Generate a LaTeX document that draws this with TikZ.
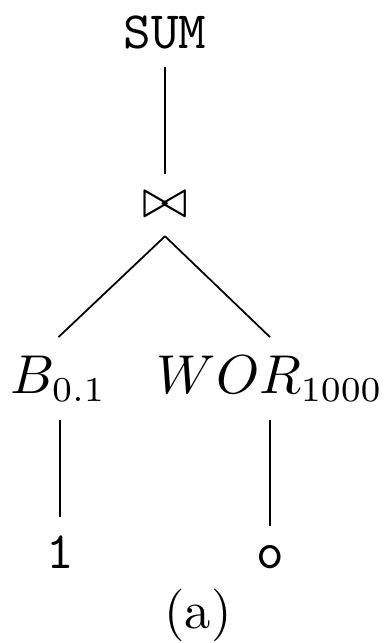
\documentclass[tikz,border=0pt]{standalone}
\usepackage{amsmath}
\begin{document}
\begin{tikzpicture}[x=0.2pt,y=-0.2pt,
  lbl/.style={font=\fontsize{10.5}{12.6}\selectfont, inner sep=3.5pt},
  edge/.style={draw=black, line width=0.35pt}]
\useasboundingbox (0,0) rectangle (384,643);
\node[lbl, anchor=base] (sum) at (165,48) {\texttt{SUM}};
\node[lbl] (bt) at (165,205) {$\bowtie$};
\node[lbl, anchor=base] (b) at (58.5,393) {$B_{0.1}$};
\node[lbl, anchor=base] (w) at (270,393) {$WOR_{1000}$};
\node[lbl, anchor=base] (one) at (60,568) {\texttt{1}};
\node[lbl, anchor=base] (oo) at (270,568) {\texttt{o}};
\node[lbl, anchor=base] (cap) at (198,628) {(a)};
\draw[edge] (sum.south) -- (bt.north);
\draw[edge] (bt.south) -- (b.north);
\draw[edge] (bt.south) -- (w.north);
\draw[edge] (one.north |- b.south) -- (one.north);
\draw[edge] (oo.north |- w.south) -- (oo.north);
\end{tikzpicture}
\end{document}
